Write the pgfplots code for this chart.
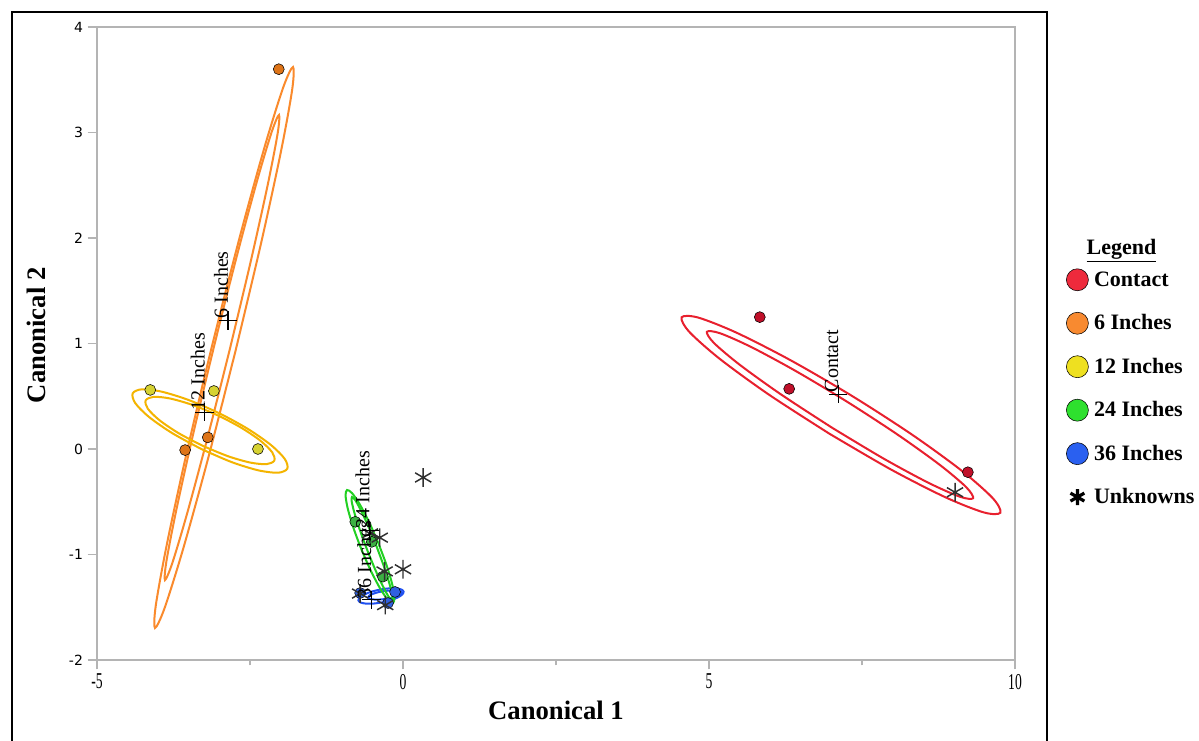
\documentclass[border=0pt]{standalone}
\usepackage{pgfplots}
\pgfplotsset{compat=1.18}
\usepackage{fontspec}
\setmainfont{Liberation Serif}
\newfontfamily\dejavu{DejaVu Sans}
\definecolor{axgray}{HTML}{B4B4B4}
\definecolor{redE}{HTML}{E8202E}
\definecolor{redP}{HTML}{C0102A}
\definecolor{redL}{HTML}{EE2A3C}
\definecolor{oraE}{HTML}{FA8A2C}
\definecolor{oraP}{HTML}{DE7418}
\definecolor{oraL}{HTML}{F88A30}
\definecolor{yelE}{HTML}{F4B400}
\definecolor{yelP}{HTML}{D6D232}
\definecolor{yelL}{HTML}{EEE020}
\definecolor{grnE}{HTML}{22D022}
\definecolor{grnP}{HTML}{3CB043}
\definecolor{grnL}{HTML}{2EE02E}
\definecolor{bluE}{HTML}{2050F0}
\definecolor{bluP}{HTML}{3060E0}
\definecolor{bluL}{HTML}{2A60F0}
\definecolor{starc}{HTML}{303030}
\pgfplotsset{
  ell/.style={forget plot, smooth, mark=none, line width=1.5pt, draw=#1},
  dots/.style={forget plot, only marks, mark=*, mark size=4.1pt, mark options={draw=none, fill=#1}},
  legcirc/.style={only marks, mark=*, mark size=8.25pt, mark options={draw=none, fill=#1},
    legend image code/.code={\path[draw=none,fill=none] (0pt,-9pt) rectangle (20.5pt,9pt); \draw[##1] plot coordinates {(10pt,0pt)};}},
  legast/.style={only marks, mark=asterisk, mark size=6pt, black, mark options={line width=2.4pt},
    legend image code/.code={\path[draw=none,fill=none] (0pt,-9pt) rectangle (20.5pt,9pt); \draw[##1] plot coordinates {(10pt,0pt)};}},
}
\begin{document}
\begin{tikzpicture}
\useasboundingbox (0,0) rectangle (899.25pt,555pt);
\fill[white] (0,0) rectangle (899.25pt,555pt);
\draw[line width=1.9pt] (9pt,-5pt) -- (9pt,546pt) -- (785.25pt,546pt) -- (785.25pt,-5pt);
\begin{axis}[
  at={(72.75pt,60pt)}, anchor=south west,
  scale only axis, width=688.5pt, height=474.75pt,
  xmin=-5, xmax=10, ymin=-2, ymax=4,
  xtick={-5,0,5,10}, minor xtick={-2.5,2.5,7.5},
  ytick={-2,-1,0,1,2,3,4},
  tick align=outside, xtick pos=bottom, ytick pos=left,
  major tick length=7pt, minor tick length=4pt,
  axis line style={draw=axgray, line width=1.1pt},
  tick style={draw=axgray, line width=1pt},
  /pgf/number format/assume math mode=true,
  xticklabel style={font=\fontsize{17}{17}\selectfont, xscale=0.6},
  yticklabel style={font=\dejavu\fontsize{10.5}{10.5}\selectfont},
  xlabel={Canonical 1}, ylabel={Canonical 2},
  label style={font=\bfseries\fontsize{20}{20}\selectfont},
  xlabel style={at={(axis description cs:0.5,-0.079)}, anchor=center},
  ylabel style={at={(axis description cs:-0.0664,0.513)}, anchor=center},
  clip=false,
  legend style={at={(1.0488,0.4290)}, anchor=west, draw=none, fill=none,
    font=\bfseries\fontsize{16.5}{19}\selectfont, row sep=14.6pt},
  legend cell align=left,
]
% ellipses
\addplot[ell=oraE] coordinates {(-2.7346,0.9348) (-3.1806,-0.0806) (-3.5877,-0.9372) (-3.8938,-1.5049) (-4.0525,-1.6968) (-4.0396,-1.4841) (-3.8569,-0.8988) (-3.5324,-0.0304) (-3.1154,0.9892) (-2.6694,2.0046) (-2.2623,2.8612) (-1.9562,3.4289) (-1.7975,3.6208) (-1.8104,3.4081) (-1.9931,2.8228) (-2.3176,1.9544) (-2.7346,0.9348)};
\addplot[ell=oraE] coordinates {(-2.8305,0.9439) (-3.1966,0.1019) (-3.5263,-0.6091) (-3.7694,-1.0810) (-3.8889,-1.2418) (-3.8666,-1.0672) (-3.7059,-0.5835) (-3.4312,0.1353) (-3.0845,0.9801) (-2.7184,1.8221) (-2.3887,2.5331) (-2.1456,3.0050) (-2.0261,3.1658) (-2.0484,2.9912) (-2.2091,2.5075) (-2.4838,1.7887) (-2.8305,0.9439)};
\addplot[ell=yelE] coordinates {(-3.2969,0.0002) (-3.7694,0.1499) (-4.1481,0.3027) (-4.3754,0.4355) (-4.4167,0.5279) (-4.2658,0.5659) (-3.9455,0.5437) (-3.5046,0.4647) (-3.0103,0.3410) (-2.5378,0.1913) (-2.1591,0.0385) (-1.9318,-0.0943) (-1.8905,-0.1867) (-2.0414,-0.2247) (-2.3617,-0.2025) (-2.8026,-0.1235) (-3.2969,0.0002)};
\addplot[ell=yelE] coordinates {(-3.2710,0.0294) (-3.6645,0.1493) (-3.9801,0.2733) (-4.1700,0.3823) (-4.2051,0.4598) (-4.0802,0.4941) (-3.8141,0.4797) (-3.4475,0.4191) (-3.0362,0.3214) (-2.6427,0.2015) (-2.3271,0.0775) (-2.1372,-0.0315) (-2.1021,-0.1090) (-2.2270,-0.1433) (-2.4931,-0.1289) (-2.8597,-0.0683) (-3.2710,0.0294)};
\addplot[ell=redE] coordinates {(6.9690,0.1445) (5.9865,0.5124) (5.1823,0.8515) (4.6786,1.1099) (4.5523,1.2484) (4.8224,1.2459) (5.4481,1.1029) (6.3337,0.8410) (7.3448,0.5001) (8.3273,0.1322) (9.1315,-0.2069) (9.6352,-0.4653) (9.7615,-0.6038) (9.4914,-0.6013) (8.8657,-0.4583) (7.9801,-0.1964) (6.9690,0.1445)};
\addplot[ell=redE] coordinates {(7.0106,0.2017) (6.1882,0.5127) (5.5107,0.7946) (5.0814,1.0047) (4.9656,1.1109) (5.1808,1.0971) (5.6945,0.9652) (6.4282,0.7355) (7.2704,0.4429) (8.0928,0.1319) (8.7703,-0.1500) (9.1996,-0.3601) (9.3154,-0.4663) (9.1002,-0.4525) (8.5865,-0.3206) (7.8528,-0.0909) (7.0106,0.2017)};
\addplot[ell=bluE] coordinates {(-0.3392,-1.4539) (-0.4819,-1.4652) (-0.6060,-1.4656) (-0.6925,-1.4550) (-0.7284,-1.4350) (-0.7081,-1.4086) (-0.6348,-1.3800) (-0.5195,-1.3534) (-0.3798,-1.3329) (-0.2371,-1.3216) (-0.1130,-1.3212) (-0.0265,-1.3318) (0.0094,-1.3518) (-0.0109,-1.3782) (-0.0842,-1.4068) (-0.1995,-1.4334) (-0.3392,-1.4539)};
\addplot[ell=bluE] coordinates {(-0.2850,-1.4214) (-0.3910,-1.4271) (-0.4822,-1.4262) (-0.5448,-1.4190) (-0.5692,-1.4063) (-0.5518,-1.3902) (-0.4950,-1.3732) (-0.4078,-1.3579) (-0.3032,-1.3464) (-0.1972,-1.3407) (-0.1060,-1.3416) (-0.0434,-1.3488) (-0.0190,-1.3615) (-0.0364,-1.3776) (-0.0932,-1.3946) (-0.1804,-1.4099) (-0.2850,-1.4214)};
\addplot[ell=grnE] coordinates {(-0.4030,-0.8920) (-0.5572,-0.6896) (-0.7086,-0.5227) (-0.8343,-0.4172) (-0.9150,-0.3887) (-0.9385,-0.4418) (-0.9012,-0.5683) (-0.8088,-0.7490) (-0.6754,-0.9564) (-0.5212,-1.1588) (-0.3698,-1.3257) (-0.2441,-1.4312) (-0.1634,-1.4597) (-0.1399,-1.4066) (-0.1772,-1.2801) (-0.2696,-1.0994) (-0.4030,-0.8920)};
\addplot[ell=grnE] coordinates {(-0.4304,-0.9259) (-0.5613,-0.7404) (-0.6838,-0.5857) (-0.7793,-0.4854) (-0.8333,-0.4549) (-0.8375,-0.4986) (-0.7914,-0.6101) (-0.7019,-0.7722) (-0.5826,-0.9603) (-0.4517,-1.1458) (-0.3292,-1.3005) (-0.2337,-1.4008) (-0.1797,-1.4313) (-0.1755,-1.3876) (-0.2216,-1.2761) (-0.3111,-1.1140) (-0.4304,-0.9259)};
% group points
\addplot[dots=redP] coordinates {(5.83,1.25) (6.31,0.57) (9.23,-0.22)};
\addplot[dots=oraP] coordinates {(-2.03,3.60) (-3.19,0.11) (-3.56,-0.01)};
\addplot[dots=yelP] coordinates {(-4.13,0.56) (-3.09,0.55) (-2.37,0.00)};
\addplot[dots=grnP] coordinates {(-0.78,-0.69) (-0.33,-1.21) (-0.51,-0.88)};
\addplot[dots=bluP] coordinates {(-0.70,-1.365) (-0.13,-1.355) (-0.245,-1.46)};
% unknowns
\addplot[forget plot, only marks, mark=asterisk, mark size=7pt, color=starc, mark options={line width=1.1pt}]
  coordinates {(0.33,-0.27) (9.02,-0.41) (-0.54,-0.80) (-0.38,-0.84) (0.00,-1.14) (-0.30,-1.16) (-0.29,-1.48) (-0.70,-1.37)};
% group means with labels
\addplot[forget plot, only marks, mark=+, mark size=7pt, black, mark options={line width=0.8pt},
  nodes near coords, point meta=explicit symbolic,
  every node near coord/.style={rotate=90, anchor=base west, inner sep=1pt, font=\fontsize{15}{15}\selectfont, text=black}]
  coordinates {(7.11,0.52) [Contact] (-2.86,1.22) [6 Inches] (-3.24,0.35) [12 Inches] (-0.55,-0.77) [24 Inches] (-0.52,-1.43) [36 Inches]};
% legend
\addlegendimage{legcirc=redL}\addlegendentry{Contact}
\addlegendimage{legcirc=oraL}\addlegendentry{6 Inches}
\addlegendimage{legcirc=yelL}\addlegendentry{12 Inches}
\addlegendimage{legcirc=grnL}\addlegendentry{24 Inches}
\addlegendimage{legcirc=bluL}\addlegendentry{36 Inches}
\addlegendimage{legast}\addlegendentry{Unknowns}
\end{axis}
\node[font=\bfseries\fontsize{16.5}{19}\selectfont, anchor=base] at (841.1pt,363.75pt) {\underline{Legend}};
\end{tikzpicture}
\end{document}
